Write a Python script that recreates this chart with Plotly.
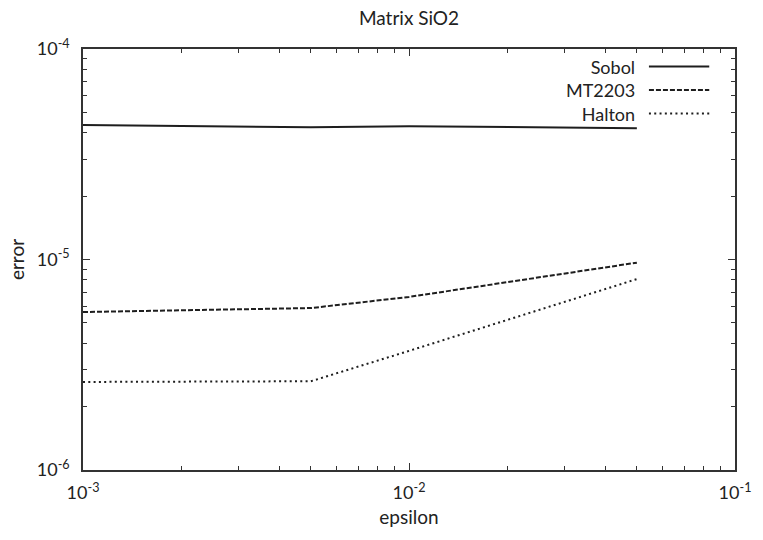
import plotly.graph_objects as go

epsilon = [0.001, 0.005, 0.01, 0.05]
sobol = [4.35e-5, 4.25e-5, 4.3e-5, 4.2e-5]
mt2203 = [5.63e-6, 5.88e-6, 6.64e-6, 9.66e-6]
halton = [2.62e-6, 2.64e-6, 3.68e-6, 8.07e-6]

series_names = ["Sobol", "MT2203", "Halton"]
x_tickvals = [1e-3, 1e-2, 1e-1]
x_ticktext = ["10<sup>-3</sup>", "10<sup>-2</sup>", "10<sup>-1</sup>"]
y_tickvals = [1e-6, 1e-5, 1e-4]
y_ticktext = ["10<sup>-6</sup>", "10<sup>-5</sup>", "10<sup>-4</sup>"]

LINE = "#1e1e1e"
FONT = "Lato, 'Open Sans', sans-serif"
FS = 19
LEG_FS = 18
dashes = ["solid", "5px,2px", "2px,3.3px"]

fig = go.Figure()
for name, ys, d in zip(series_names, [sobol, mt2203, halton], dashes):
    fig.add_trace(go.Scatter(x=epsilon, y=ys, mode="lines", name=name,
                             line=dict(color=LINE, width=2, dash=d),
                             showlegend=False))

# legend: one right-aligned text block, sample lines to its right
PLOT_H = 421
row = 1.3 * LEG_FS  # plotly line spacing
mid_px = 90
fig.add_annotation(x=0.848, y=(470 - mid_px) / PLOT_H, xref="paper", yref="paper",
                   text="<br>".join(series_names), align="right",
                   showarrow=False, xanchor="right", yanchor="middle", borderpad=0,
                   font=dict(size=LEG_FS, color="#222", family=FONT))
for i, d in enumerate(dashes):
    yy = (470 - (mid_px + (i - 1) * row)) / PLOT_H
    fig.add_shape(type="line", xref="paper", yref="paper", x0=0.868, x1=0.9605,
                  y0=yy, y1=yy, line=dict(color=LINE, width=2, dash=d))

minor_x = [k * 10.0 ** e for e in (-3, -2) for k in range(2, 10)]
minor_y = [k * 10.0 ** e for e in (-6, -5) for k in range(2, 10)]

axis_common = dict(showline=True, linecolor="#333", linewidth=1.5, mirror="allticks",
                   ticks="inside", ticklen=7, tickcolor="#333", tickwidth=1,
                   showgrid=False, zeroline=False, ticklabeloverflow="allow",
                   tickfont=dict(size=18, color="#222", family=FONT))

fig.update_xaxes(type="log", range=[-3, -1], tickmode="array", tickvals=x_tickvals,
                 ticktext=x_ticktext,
                 minor=dict(tickmode="array", tickvals=minor_x, ticks="inside", ticklen=4,
                            tickcolor="#333", showgrid=False),
                 title=dict(text="epsilon", font=dict(size=FS, color="#222", family=FONT),
                            standoff=8),
                 ticklabelstandoff=6,
                 **axis_common)
fig.update_yaxes(type="log", range=[-6, -4], tickmode="array", tickvals=y_tickvals,
                 ticktext=y_ticktext,
                 minor=dict(tickmode="array", tickvals=minor_y, ticks="inside", ticklen=4,
                            tickcolor="#333", showgrid=False),
                 title=dict(text="error", font=dict(size=FS, color="#222", family=FONT),
                            standoff=7),
                 ticklabelstandoff=8,
                 **axis_common)

fig.update_layout(
    width=763, height=540,
    margin=dict(l=83, r=21, t=49, b=70),
    paper_bgcolor="white", plot_bgcolor="white",
    title=dict(text="Matrix SiO2", x=0.5, xref="paper", y=1 - 18 / 540, yanchor="middle",
               font=dict(size=FS, color="#222", family=FONT)),
    showlegend=False,
)

fig.write_html("out.html", config={"displayModeBar": False},
               post_script="document.body.style.margin='0';")
